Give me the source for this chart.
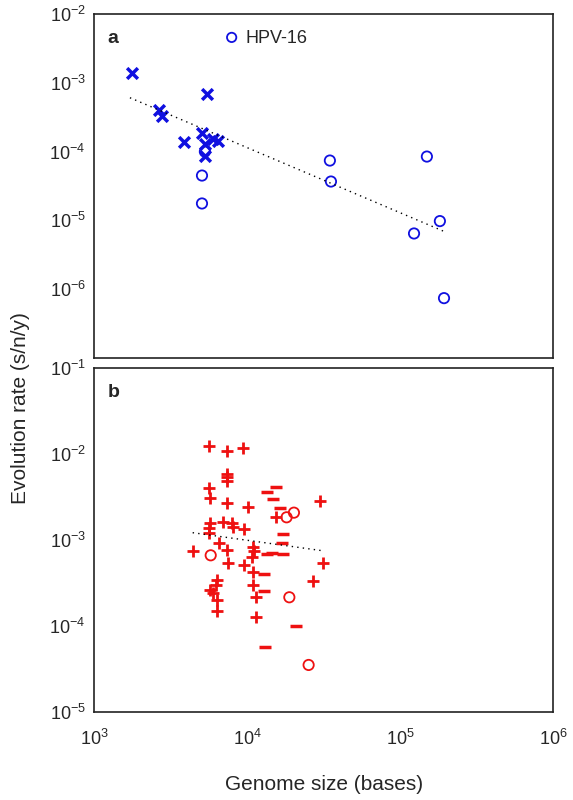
import numpy as np, pandas as pd, matplotlib
matplotlib.use("Agg")
import matplotlib.pyplot as plt, seaborn as sns
from matplotlib.ticker import FixedLocator, FuncFormatter, NullLocator

sns.set_style("white")
plt.rcParams['font.family'] = ['Liberation Sans', 'DejaVu Sans']
plt.rcParams['mathtext.fontset'] = 'custom'
plt.rcParams['mathtext.rm'] = 'Liberation Sans'
plt.rcParams['mathtext.it'] = 'Liberation Sans'
plt.rcParams['mathtext.default'] = 'regular'

# Panel a (log10 genome size, log10 rate)
a_x_lx = [3.246,3.428,3.444,3.588,3.739,3.706,3.725,3.778,3.810,3.725]
a_x_ly = [-2.855,-3.391,-3.478,-3.855,-3.159,-3.725,-3.884,-3.812,-3.841,-4.07]
a_o_lx = [3.725,3.706,3.706,4.542,4.549,5.176,5.092,5.261,5.288]
a_o_ly = [-4.0,-4.348,-4.754,-4.13,-4.435,-4.072,-5.19,-5.01,-6.13]
a_trend_lx = [3.235,5.288]; a_trend_ly = [-3.217,-5.16]

# Panel b
b_p_lx = [3.754,3.871,3.974,3.871,3.871,3.867,3.754,3.758,3.867,4.009,3.758,3.845,3.900,3.911,3.983,3.754,3.754,3.819,3.871,3.645,4.037,4.031,3.874,3.983,4.041,3.802,3.797,3.758,3.776,3.802,4.037,4.059,3.802,4.059,4.190,4.477,4.495,4.434,4.046]
b_p_ly = [-1.907,-1.961,-1.930,-2.232,-2.271,-2.310,-2.398,-2.515,-2.574,-2.619,-2.806,-2.787,-2.806,-2.845,-2.876,-2.865,-2.923,-3.031,-3.117,-3.125,-3.078,-3.193,-3.271,-3.291,-3.368,-3.465,-3.523,-3.581,-3.620,-3.697,-3.523,-3.659,-3.822,-3.892,-2.736,-2.543,-3.264,-3.473,-3.125]
b_m_lx = [4.129,4.188,4.172,4.216,4.233,4.227,4.129,4.166,4.237,4.111,4.111,4.320,4.118]
b_m_ly = [-2.437,-2.387,-2.527,-2.632,-2.930,-3.039,-3.162,-3.147,-3.162,-3.395,-3.596,-3.999,-4.248]
b_o_lx = [3.763,4.259,4.307,4.277,4.403]
b_o_ly = [-3.178,-2.736,-2.682,-3.666,-4.453]
b_trend_lx = [3.645,4.495]; b_trend_ly = [-2.915,-3.125]

def df(lx, ly):
    return pd.DataFrame({'x': 10**np.array(lx), 'y': 10**np.array(ly)})

fig = plt.figure(figsize=(5.73, 8), dpi=100)
axa = fig.add_axes([0.164, 0.5525, 0.801, 0.43])
axb = fig.add_axes([0.164, 0.11, 0.801, 0.43])
blue = '#1010e0'; red = '#ee1111'

sns.scatterplot(data=df(a_x_lx, a_x_ly), x='x', y='y', ax=axa, marker='x', s=60, color=blue, linewidth=2.5)
sns.scatterplot(data=df(a_o_lx, a_o_ly), x='x', y='y', ax=axa, marker='o', s=55, facecolor='none', edgecolor=blue, linewidth=1.3)
sns.lineplot(data=df(a_trend_lx, a_trend_ly), x='x', y='y', ax=axa, color='black', linestyle=(0, (1, 3)), linewidth=1)
sns.scatterplot(data=df(b_p_lx, b_p_ly), x='x', y='y', ax=axb, marker='+', s=80, color=red, linewidth=2)
sns.scatterplot(data=df(b_m_lx, b_m_ly), x='x', y='y', ax=axb, marker='_', s=80, color=red, linewidth=2.5)
sns.scatterplot(data=df(b_o_lx, b_o_ly), x='x', y='y', ax=axb, marker='o', s=55, facecolor='none', edgecolor=red, linewidth=1.3)
sns.lineplot(data=df(b_trend_lx, b_trend_ly), x='x', y='y', ax=axb, color='black', linestyle=(0, (1, 3)), linewidth=1)

fmt = FuncFormatter(lambda v, p: r'$10^{%d}$' % round(np.log10(v)))
for ax, ylo, yhi in [(axa, 1e-7, 1e-2), (axb, 1e-5, 1e-1)]:
    ax.set_xscale('log'); ax.set_yscale('log')
    ax.set_xlim(1e3, 1e6); ax.set_ylim(ylo, yhi)
    ax.xaxis.set_major_locator(FixedLocator([1e3, 1e4, 1e5, 1e6]))
    ax.xaxis.set_minor_locator(NullLocator()); ax.yaxis.set_minor_locator(NullLocator())
    ax.xaxis.set_major_formatter(fmt); ax.yaxis.set_major_formatter(fmt)
    ax.set_xlabel(''); ax.set_ylabel('')
    ax.tick_params(axis='both', labelsize=13, direction='out', length=4, color='#222222', pad=2)
    for s in ax.spines.values():
        s.set_color('#222222'); s.set_linewidth(1.2)
axa.yaxis.set_major_locator(FixedLocator([1e-6, 1e-5, 1e-4, 1e-3, 1e-2]))
axb.yaxis.set_major_locator(FixedLocator([1e-5, 1e-4, 1e-3, 1e-2, 1e-1]))
axa.tick_params(axis='x', labelbottom=False, direction='in')
axb.tick_params(axis='x', pad=8)

axa.text(0.03, 0.93, 'a', transform=axa.transAxes, fontsize=14, fontweight='bold', va='center')
axb.text(0.03, 0.93, 'b', transform=axb.transAxes, fontsize=14, fontweight='bold', va='center')
axa.scatter([0.3], [0.932], transform=axa.transAxes, marker='o', s=45, facecolor='none', edgecolor=blue, linewidth=1.3)
axa.text(0.33, 0.93, 'HPV-16', transform=axa.transAxes, fontsize=13, va='center')

fig.text(0.035, 0.49, 'Evolution rate (s/n/y)', rotation=90, fontsize=15, va='center', ha='center')
fig.text(0.565, 0.02, 'Genome size (bases)', fontsize=15, ha='center', va='center')
fig.savefig('out.png', dpi=100)
